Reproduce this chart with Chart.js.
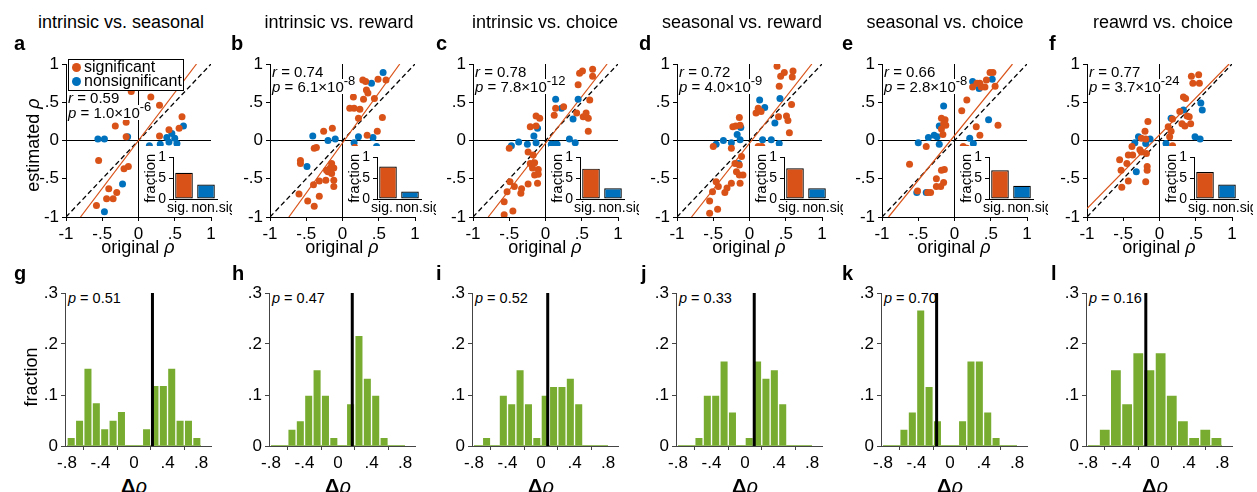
<!DOCTYPE html>
<html>
<head>
<meta charset="utf-8">
<script src="https://cdn.jsdelivr.net/npm/chart.js@4.4.1/dist/chart.umd.min.js"></script>
<style>
  body { margin: 0; background: #fff; }
  #fig { position: relative; width: 1257px; height: 492px; overflow: hidden;
         font-family: "Liberation Sans", Arial, Helvetica, sans-serif; color: #000; }
  #fig canvas { position: absolute; }
  .t { position: absolute; white-space: nowrap; line-height: 1; }
  .bg { background: #fff; }
  .rot { transform: translate(-50%, -50%) rotate(-90deg); }
  .ctr { transform: translateX(-50%); }
  sup { font-size: 13px; vertical-align: 7px; line-height: 0; }
  .legend { position: absolute; left: 68px; top: 59px; width: 116px; height: 32px;
            box-sizing: border-box; border: 1px solid #000; background: #fff; }
  .dot { position: absolute; width: 9px; height: 9px; border-radius: 50%; }
</style>
</head>
<body>
<div id="fig"></div>
<script>
// ---- data ----
const titles = ['intrinsic vs. seasonal', 'intrinsic vs. reward', 'intrinsic vs. choice',
                'seasonal vs. reward', 'seasonal vs. choice', 'reawrd vs. choice'];
const topLetters = ['a', 'b', 'c', 'd', 'e', 'f'];
const bottomLetters = ['g', 'h', 'i', 'j', 'k', 'l'];

const rValues = ['0.59', '0.74', '0.78', '0.72', '0.66', '0.77'];
const pMantissa = ['1.0', '6.1', '7.8', '4.0', '2.8', '3.7'];
const pExponent = ['-6', '-8', '-12', '-9', '-8', '-24'];

// significant (orange) and nonsignificant (blue) correlations: [original, estimated]
const sigA = [[-0.10,0.64],[0.17,0.57],[0.29,0.46],[-0.32,0.19],[-0.17,0.24],[-0.17,0.05],[0.60,0.31],
  [0.56,0.16],[0.42,0.14],[0.29,0.06],[0.15,-0.11],[-0.55,-0.26],[-0.14,-0.34],[-0.20,-0.37],
  [-0.41,-0.63],[-0.30,-0.68],[-0.44,-0.76],[-0.35,-0.76],[-0.58,-0.85],[0.26,-0.26]];
const nonA = [[-0.56,0.02],[-0.47,0.02],[-0.15,0.05],[0.15,-0.07],[0.30,-0.05],[0.39,0.04],[0.46,0.09],
  [0.42,-0.02],[0.50,0.03],[0.53,-0.04],[0.62,0.19],[-0.22,-0.57],[-0.47,-0.93]];

const sigB = [[0.28,0.79],[0.32,0.77],[0.49,0.80],[0.60,0.79],[0.33,0.66],[0.35,0.62],[0.29,0.54],
  [0.44,0.55],[0.15,0.57],[0.10,0.42],[0.16,0.42],[0.24,0.41],[0.22,0.29],[0.55,0.30],[0.48,0.12],
  [0.34,0.07],[0.17,-0.09],[-0.26,0.12],[-0.14,0.16],[-0.39,-0.10],[-0.36,-0.09],[-0.58,-0.26],
  [-0.58,-0.30],[-0.15,-0.30],[-0.17,-0.36],[-0.12,-0.36],[-0.20,-0.41],[-0.15,-0.43],[-0.22,-0.39],
  [-0.32,-0.53],[-0.23,-0.52],[-0.12,-0.52],[-0.40,-0.58],[-0.12,-0.60],[-0.60,-0.70],[-0.32,-0.73],
  [-0.48,-0.79],[-0.39,-0.86]];
const nonB = [[0.56,0.89],[0.40,0.75],[-0.41,0.06],[-0.20,0.00],[-0.10,0.02],[0.16,-0.03],[0.22,0.05],
  [0.42,0.04],[0.47,-0.08],[-0.49,-0.34],[0.24,-0.15]];

const sigC = [[0.47,0.88],[0.51,0.91],[0.65,0.93],[0.65,0.84],[0.45,0.73],[0.61,0.53],[0.43,0.36],
  [0.56,0.36],[0.52,0.31],[0.59,0.29],[0.59,0.12],[0.14,0.42],[0.25,0.44],[0.12,0.33],[-0.13,0.32],
  [-0.08,0.29],[-0.21,0.18],[-0.13,0.19],[-0.50,-0.10],[-0.24,-0.15],[-0.17,-0.19],[-0.21,-0.30],
  [-0.15,-0.29],[-0.18,-0.36],[-0.10,-0.38],[-0.15,-0.45],[-0.10,-0.44],[-0.49,-0.54],[-0.43,-0.60],
  [-0.53,-0.67],[-0.33,-0.63],[-0.24,-0.57],[-0.11,-0.56],[-0.34,-0.69],[-0.57,-0.80],[-0.57,-0.97],
  [-0.45,-0.92],[0.15,-0.21]];
const nonC = [[0.14,0.54],[0.45,0.54],[0.22,0.42],[0.38,0.28],[-0.11,0.16],[-0.16,0.06],[-0.47,-0.07],
  [-0.37,-0.02],[-0.25,-0.05],[-0.13,-0.03],[0.08,-0.05],[0.13,-0.05],[0.16,-0.05],[0.33,0.02],
  [0.41,-0.03],[0.25,-0.14]];

const sigD = [[0.38,0.97],[0.43,0.84],[0.48,0.89],[0.60,0.91],[0.59,0.83],[0.41,0.71],[0.58,0.47],
  [0.40,0.31],[0.51,0.32],[0.53,0.26],[0.55,0.10],[0.12,0.42],[0.09,0.36],[0.16,0.38],[-0.14,0.30],
  [-0.23,0.18],[-0.19,0.19],[-0.13,0.20],[-0.50,-0.08],[-0.25,-0.10],[-0.11,-0.21],[-0.20,-0.30],
  [-0.14,-0.32],[-0.18,-0.41],[-0.09,-0.45],[-0.14,-0.45],[-0.46,-0.54],[-0.43,-0.60],[-0.51,-0.67],
  [-0.31,-0.62],[-0.25,-0.56],[-0.13,-0.56],[-0.34,-0.68],[-0.55,-0.79],[-0.55,-0.95],[-0.44,-0.90],
  [0.12,-0.08],[0.17,-0.08]];
const nonD = [[0.14,0.53],[0.42,0.55],[0.21,0.43],[0.35,0.23],[-0.12,0.17],[-0.17,0.08],[-0.46,-0.05],
  [-0.36,0.00],[-0.25,-0.03],[-0.13,0.01],[0.18,0.01],[0.30,0.01],[0.41,-0.04],[0.21,-0.15],
  [-0.15,-0.30]];

const sigE = [[0.49,0.89],[0.53,0.89],[0.44,0.79],[0.35,0.75],[0.31,0.75],[0.37,0.70],[0.42,0.70],
  [0.25,0.70],[0.56,0.71],[0.17,0.53],[0.10,0.39],[0.30,0.18],[0.35,0.07],[0.60,0.20],[-0.18,0.29],
  [-0.13,0.27],[-0.15,0.22],[-0.12,0.20],[-0.18,0.15],[-0.16,0.08],[-0.39,-0.08],[0.12,-0.08],
  [0.17,-0.10],[-0.62,-0.31],[-0.14,-0.38],[-0.18,-0.39],[-0.25,-0.50],[-0.15,-0.55],[-0.25,-0.60],
  [-0.19,-0.60],[-0.51,-0.66],[-0.37,-0.68],[-0.33,-0.68]];
const nonE = [[0.25,0.77],[0.52,0.80],[0.34,0.68],[-0.15,0.45],[0.47,0.27],[-0.21,0.19],[-0.36,0.04],
  [-0.28,0.07],[-0.24,0.05],[-0.50,-0.03],[-0.21,-0.05],[0.21,0.03],[0.26,-0.04],[-0.52,-0.68],
  [-0.39,-0.68]];

const sigF = [[0.44,0.84],[0.54,0.86],[0.55,0.75],[0.46,0.75],[0.33,0.57],[0.36,0.55],[0.28,0.38],
  [0.38,0.32],[0.41,0.31],[0.43,0.22],[0.31,0.22],[0.35,0.19],[0.18,0.28],[0.12,0.18],[0.16,0.12],
  [0.14,0.05],[0.18,-0.07],[-0.16,0.25],[-0.20,0.12],[-0.25,0.03],[-0.19,0.02],[-0.38,-0.08],
  [-0.27,-0.12],[-0.37,-0.19],[-0.43,-0.19],[-0.55,-0.25],[-0.45,-0.30],[-0.53,-0.39],[-0.17,-0.34],
  [-0.17,-0.39],[-0.43,-0.53],[-0.19,-0.54],[-0.52,-0.61],[-0.18,-0.17],[-0.25,-0.15]];
const nonF = [[0.57,0.49],[0.59,0.40],[0.33,0.40],[0.16,0.29],[0.49,0.05],[0.56,0.02],[-0.29,0.05],
  [-0.34,-0.03],[-0.19,-0.04],[-0.13,0.02],[-0.32,-0.41],[0.09,-0.04]];

const sigSets = [sigA, sigB, sigC, sigD, sigE, sigF];
const nonSets = [nonA, nonB, nonC, nonD, nonE, nonF];

// regression line ends [x, y]
const fitLines = [[[-0.80,-1],[0.80,1]], [[-0.74,-1],[0.79,1]], [[-0.79,-1],[0.85,1]],
                  [[-0.80,-1],[0.86,1]], [[-0.91,-1],[0.80,1]], [[-1,-0.89],[0.96,1]]];

// inset bars: fraction significant / nonsignificant
const insetCats = ['sig.', 'non.sig'];
const fracSig = [0.63, 0.78, 0.73, 0.74, 0.69, 0.65];
const fracNon = [0.35, 0.18, 0.26, 0.26, 0.32, 0.35];

// histograms of delta rho
const binsTen = [-0.75,-0.65,-0.55,-0.45,-0.35,-0.25,-0.15,-0.05,0.05,0.15,0.25,0.35,0.45,0.55,0.65,0.75];
const binsTwelve = [-0.733,-0.6,-0.467,-0.333,-0.2,-0.067,0.067,0.2,0.333,0.467,0.6,0.733];
const histG = [0.017,0.051,0.153,0.085,0.034,0.051,0.068,0,0,0.034,0.119,0.119,0.153,0.051,0.051,0.017];
const histH = [0,0,0.033,0.05,0.1,0.15,0.1,0.017,0,0.083,0.217,0.133,0.1,0.017,0,0];
const histI = [0,0.017,0,0.1,0.083,0.15,0.083,0.017,0.1,0.117,0.117,0.133,0.083,0,0,0];
const histJ = [0,0,0.017,0.1,0.1,0.167,0.067,0,0.017,0.167,0.133,0.15,0.083,0,0,0];
const histK = [0,0,0.033,0.067,0.267,0.117,0.05,0,0,0.05,0.167,0.167,0.067,0.017,0,0];
const histL = [0,0.033,0.15,0.083,0.183,0.15,0.183,0.1,0.05,0.017,0.033,0.017];
const histSets = [histG, histH, histI, histJ, histK, histL];
const histBins = [binsTen, binsTen, binsTen, binsTen, binsTen, binsTwelve];
const histMeans = [0.22, 0.17, 0.08, 0.11, -0.16, -0.11];
const histP = ['0.51', '0.47', '0.52', '0.33', '0.70', '0.16'];

const rhoTicks = [-1, -0.5, 0, 0.5, 1];
const deltaTicks = [-0.8, -0.4, 0, 0.4, 0.8];
const fracTicks = [0, 0.1, 0.2, 0.3];
const insetTicks = [0, 0.5, 1];

// ---- layout ----
const ORANGE = '#D95319', BLUE = '#0072BD', GREEN = '#77AC30';
const FAMILY = '"Liberation Sans", Arial, Helvetica, sans-serif';
const plotLeft = [66, 270, 473, 677, 882, 1087];
const titleCenter = [121, 339, 545, 742, 945, 1163];
const topLetterX = [14, 231, 436, 639, 842, 1049];
const bottomLetterX = [14, 232, 436, 641, 842, 1051];

Chart.defaults.font.family = FAMILY;
Chart.defaults.color = '#000';
Chart.defaults.animation = false;
Chart.defaults.responsive = false;
Chart.defaults.devicePixelRatio = 1;
Chart.defaults.events = [];
Chart.defaults.plugins.legend.display = false;
Chart.defaults.plugins.tooltip.enabled = false;

const fig = document.getElementById('fig');

function tickFmt(v) {
  if (v === 0) return '0';
  return String(+v.toFixed(2)).replace(/^(-?)0\./, '$1.');
}

function addCanvas(left, top, w, h, bg) {
  const c = document.createElement('canvas');
  c.width = w; c.height = h;
  c.style.left = left + 'px'; c.style.top = top + 'px';
  c.style.width = w + 'px'; c.style.height = h + 'px';
  if (bg) c.style.background = bg;
  fig.appendChild(c);
  return c;
}

function addText(html, left, baseline, size, cls, extra) {
  const d = document.createElement('div');
  d.className = 't ' + (cls || '');
  d.innerHTML = html;
  d.style.fontSize = size + 'px';
  d.style.left = left + 'px';
  d.style.top = (baseline - 0.8465 * size) + 'px';
  if (extra) Object.assign(d.style, extra);
  fig.appendChild(d);
  return d;
}

function linAxis(min, max, ticks, size, color, fit) {
  return {
    type: 'linear', min, max, offset: false,
    afterBuildTicks: s => { s.ticks = ticks.map(v => ({ value: v })); },
    afterFit: fit,
    ticks: { callback: tickFmt, font: { size }, color: '#000', padding: 3, maxRotation: 0, autoSkip: false },
    grid: { drawOnChartArea: false, drawTicks: true, tickLength: 4, color },
    border: { color, width: 1 }
  };
}

const pts = arr => arr.map(([x, y]) => ({ x, y }));

// ---- scatter panels ----
plotLeft.forEach((L, i) => {
  const cv = addCanvas(L - 56, 40, 56 + 145 + 14, 222);
  new Chart(cv, {
    type: 'scatter',
    data: {
      datasets: [
        { data: pts(sigSets[i]), pointRadius: 3.5, pointBackgroundColor: ORANGE, pointBorderWidth: 0, order: 1 },
        { data: pts(nonSets[i]), pointRadius: 3.5, pointBackgroundColor: BLUE, pointBorderWidth: 0, order: 2 },
        { data: pts(fitLines[i]), showLine: true, borderColor: ORANGE, borderWidth: 1.2, pointRadius: 0, order: 3 },
        { data: pts([[-1, -1], [1, 1]]), showLine: true, borderColor: '#000', borderWidth: 1.3,
          borderDash: [5, 3], pointRadius: 0, order: 4 },
        { data: pts([[-1, 0], [1, 0]]), showLine: true, borderColor: '#000', borderWidth: 1, pointRadius: 0, order: 5 },
        { data: pts([[0, -1], [0, 1]]), showLine: true, borderColor: '#000', borderWidth: 1, pointRadius: 0, order: 5 }
      ]
    },
    options: {
      layout: { padding: { top: 24, right: 14, left: 0, bottom: 0 } },
      scales: {
        x: linAxis(-1, 1, rhoTicks, 17, '#000', s => { s.height = 45; }),
        y: linAxis(-1, 1, rhoTicks, 17, '#000', s => { s.width = 56; })
      }
    }
  });
});

// ---- inset bar charts ----
const insetLabels = {
  id: 'insetLabels',
  afterDraw(chart) {
    const { ctx } = chart;
    const x = chart.scales.x;
    const shift = [-6, 8];
    ctx.save();
    ctx.font = '14px ' + FAMILY;
    ctx.fillStyle = '#000';
    ctx.textAlign = 'center';
    ctx.textBaseline = 'alphabetic';
    chart.data.labels.forEach((lab, k) => {
      ctx.fillText(lab, x.getPixelForValue(k) + shift[k], x.top + 13);
    });
    ctx.restore();
  }
};

plotLeft.forEach((L, i) => {
  const cv = addCanvas(L + 76, 146, 90, 70, '#fff');
  new Chart(cv, {
    type: 'bar',
    data: {
      labels: insetCats,
      datasets: [{
        data: [fracSig[i], fracNon[i]],
        backgroundColor: [ORANGE, BLUE], borderColor: '#000', borderWidth: 1.2,
        borderSkipped: false, barPercentage: 0.8, categoryPercentage: 1
      }]
    },
    options: {
      layout: { padding: { top: 6, right: 15, left: 0, bottom: 0 } },
      scales: {
        x: {
          afterFit: s => { s.height = 17; },
          ticks: { display: false },
          grid: { drawOnChartArea: false, drawTicks: false },
          border: { color: '#000' }
        },
        y: Object.assign(linAxis(0, 1, insetTicks, 14, '#000', s => { s.width = 31; }), {
          title: { display: true, text: 'fraction', font: { size: 15 }, padding: 0, color: '#000' }
        })
      }
    },
    plugins: [insetLabels]
  });
});

// ---- histogram panels ----
plotLeft.forEach((L, i) => {
  addText('<i>p</i> = ' + histP[i], L + 2, 303, 14.5);
});

plotLeft.forEach((L, i) => {
  const cv = addCanvas(L - 1 - 56, 270, 56 + 146 + 12, 202);
  const bins = histBins[i];
  new Chart(cv, {
    type: 'bar',
    data: {
      datasets: [
        { type: 'line', data: pts([[histMeans[i], 0], [histMeans[i], 0.3]]), borderColor: '#000',
          borderWidth: 3, pointRadius: 0, order: 0 },
        { type: 'bar', data: histSets[i].map((v, k) => ({ x: bins[k], y: v })), backgroundColor: GREEN,
          borderColor: 'rgba(255,255,255,0.22)', borderWidth: 1, barPercentage: 1, categoryPercentage: 1, order: 1 },
        { type: 'line', data: pts([[-0.8, 0], [0.8, 0]]), borderColor: GREEN, borderWidth: 1.5,
          pointRadius: 0, order: 2 }
      ]
    },
    options: {
      layout: { padding: { top: 23, right: 12, left: 0, bottom: 0 } },
      scales: {
        x: linAxis(-0.824, 0.919, deltaTicks, 17, '#444', s => { s.height = 26; }),
        y: linAxis(0, 0.3, fracTicks, 17, '#444', s => { s.width = 56; })
      }
    }
  });
});

// ---- text ----
plotLeft.forEach((L, i) => {
  addText(titles[i], titleCenter[i], 28, 18, 'ctr');
  addText('<b>' + topLetters[i] + '</b>', topLetterX[i], 50, 20);
  addText('<b>' + bottomLetters[i] + '</b>', bottomLetterX[i], 280, 20);
  addText('original <i>ρ</i>', L + 72, 253, 18, 'ctr');
  addText('<b>Δ</b><i>ρ</i>', L + 68, 493, 20, 'ctr');
  const rBase = i === 0 ? 103 : 77;
  addText('<i>r</i> = ' + rValues[i], L + 2, rBase, 15, 'bg');
  addText('<i>p</i> = ' + pMantissa[i] + '×10<sup>' + pExponent[i] + '</sup>', L + 2, rBase + 15, 15, 'bg');
});

addText('estimated <i>ρ</i>', 33, 150, 18, 'rot', { top: '145px' });
addText('fraction', 31, 377, 18, 'rot', { top: '377px' });

// legend of panel a
const leg = document.createElement('div');
leg.className = 'legend';
leg.innerHTML =
  '<div class="dot" style="left:3px;top:3px;background:' + ORANGE + '"></div>' +
  '<div class="t" style="left:15px;top:-1px;font-size:16px">significant</div>' +
  '<div class="dot" style="left:3px;top:17px;background:' + BLUE + '"></div>' +
  '<div class="t" style="left:15px;top:13px;font-size:16px">nonsignificant</div>';
fig.appendChild(leg);
</script>
</body>
</html>
